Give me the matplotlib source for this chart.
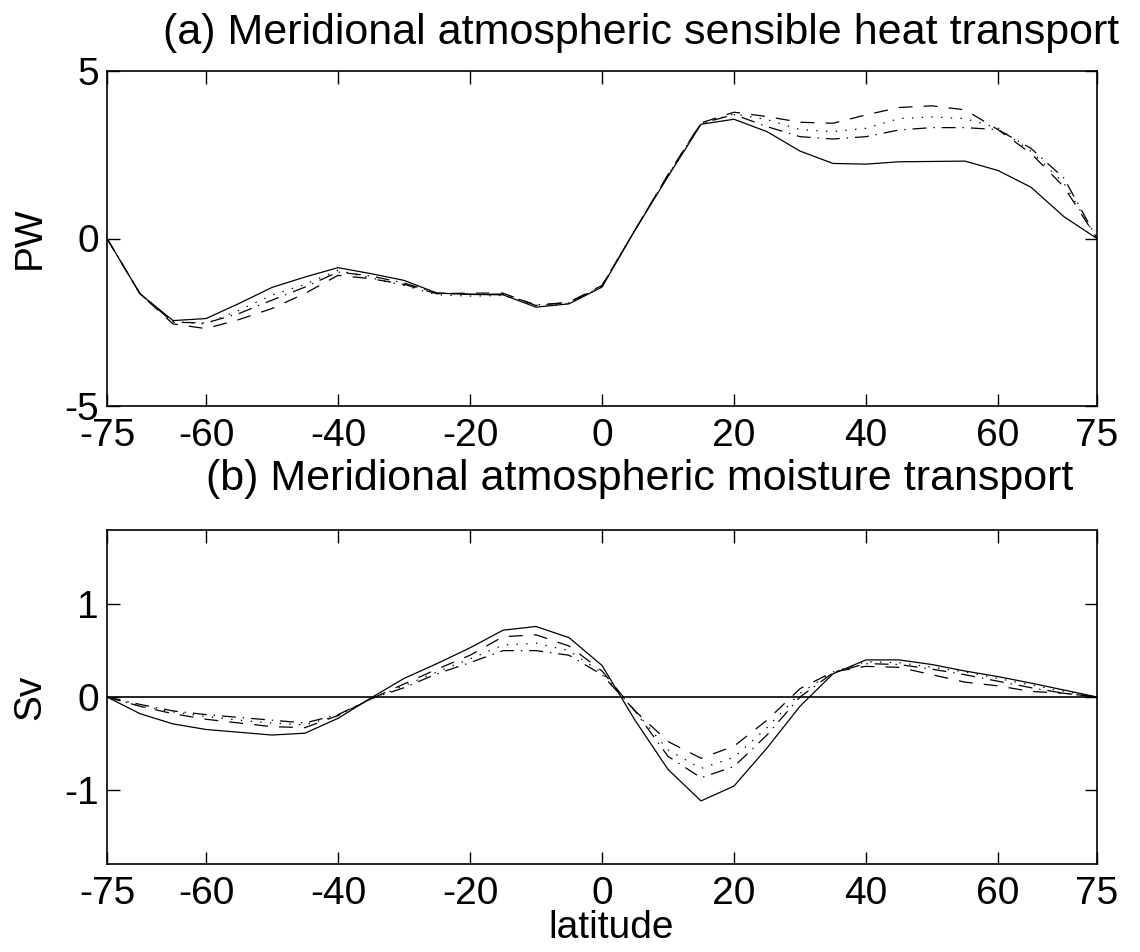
import matplotlib
matplotlib.use("Agg")
import matplotlib.pyplot as plt

plt.rcParams['font.family'] = ['Liberation Sans', 'DejaVu Sans']
plt.rcParams['lines.scale_dashes'] = False

lat = [-75, -70, -65, -60, -55, -50, -45, -40, -35, -30, -25, -20, -15, -10, -5,
       0, 5, 10, 15, 20, 25, 30, 35, 40, 45, 50, 55, 60, 65, 70, 75]

# (a) sensible heat transport, PW
heat_solid = [0, -1.65, -2.45, -2.39, -1.94, -1.46, -1.15, -0.87, -1.05, -1.25, -1.63, -1.67, -1.68, -2.05, -1.95,
              -1.45, 0.25, 1.85, 3.41, 3.56, 3.19, 2.61, 2.24, 2.22, 2.29, 2.30, 2.31, 2.03, 1.53, 0.65, 0]
heat_dashed = [0, -1.65, -2.55, -2.69, -2.42, -2.09, -1.64, -1.10, -1.20, -1.37, -1.65, -1.63, -1.63, -2.00, -1.90,
               -1.40, 0.25, 1.90, 3.45, 3.77, 3.64, 3.47, 3.44, 3.69, 3.91, 3.96, 3.84, 3.25, 2.54, 1.54, 0]
heat_dotted = [0, -1.65, -2.48, -2.55, -2.14, -1.69, -1.37, -0.95, -1.18, -1.40, -1.68, -1.72, -1.70, -2.00, -1.95,
               -1.42, 0.25, 1.90, 3.43, 3.72, 3.55, 3.25, 3.19, 3.29, 3.58, 3.63, 3.58, 3.30, 2.60, 1.65, 0]
heat_dashdot = [0, -1.65, -2.50, -2.52, -2.24, -1.84, -1.45, -1.00, -1.12, -1.33, -1.63, -1.66, -1.66, -1.98, -1.92,
                -1.42, 0.25, 1.90, 3.43, 3.70, 3.34, 3.04, 2.97, 3.04, 3.24, 3.31, 3.31, 3.25, 2.69, 1.80, 0]

# (b) moisture transport, Sv
moist_solid = [0, -0.18, -0.29, -0.35, -0.38, -0.41, -0.39, -0.23, -0.01, 0.20, 0.36, 0.53, 0.72, 0.76, 0.64,
               0.34, -0.25, -0.78, -1.12, -0.96, -0.55, -0.10, 0.25, 0.40, 0.40, 0.35, 0.28, 0.22, 0.15, 0.075, 0]
moist_dashed = [0, -0.10, -0.18, -0.24, -0.28, -0.32, -0.33, -0.20, -0.02, 0.14, 0.30, 0.45, 0.65, 0.67, 0.55,
                0.28, -0.15, -0.48, -0.66, -0.53, -0.25, 0.09, 0.27, 0.33, 0.32, 0.24, 0.16, 0.12, 0.06, 0.04, 0]
moist_dotted = [0, -0.10, -0.16, -0.21, -0.25, -0.28, -0.30, -0.20, -0.02, 0.12, 0.27, 0.41, 0.56, 0.58, 0.50,
                0.26, -0.15, -0.57, -0.77, -0.65, -0.33, 0.04, 0.27, 0.38, 0.37, 0.32, 0.27, 0.20, 0.13, 0.06, 0]
moist_dashdot = [0, -0.08, -0.15, -0.19, -0.22, -0.25, -0.28, -0.19, -0.02, 0.10, 0.25, 0.37, 0.50, 0.50, 0.45,
                 0.24, -0.15, -0.64, -0.87, -0.75, -0.41, 0.00, 0.26, 0.36, 0.35, 0.30, 0.24, 0.17, 0.10, 0.04, 0]

xticks = [-75, -60, -40, -20, 0, 20, 40, 60, 75]
title_a = "(a) Meridional atmospheric sensible heat transport"
title_b = "(b) Meridional atmospheric moisture transport"

FS = 28
LW = 0.9
styles = {
    'solid': dict(linestyle='-'),
    'dashed': dict(dashes=(10, 8)),
    'dotted': dict(dashes=(1, 6)),
    'dashdot': dict(dashes=(10, 5, 1, 5)),
}

fig = plt.figure(figsize=(11.4, 9.52), dpi=100)
W, H = 1140, 952
ax1 = fig.add_axes([107 / W, 1 - 406 / H, 990 / W, 335 / H])
ax2 = fig.add_axes([107 / W, 1 - 864 / H, 990 / W, 334 / H])

def style_axes(ax, yticks, ylim):
    ax.set_xlim(-75, 75)
    ax.set_ylim(*ylim)
    ax.set_xticks(xticks)
    ax.set_xticklabels([str(t) for t in xticks])
    ax.set_yticks(yticks)
    ax.set_yticklabels([str(t) for t in yticks])
    ax.tick_params(direction='in', length=9, width=1.0, top=True, right=True,
                   labelsize=FS, color='black')
    ax.tick_params(axis='x', pad=9)
    ax.tick_params(axis='y', pad=6)
    for s in ax.spines.values():
        s.set_linewidth(1.2)
        s.set_color('black')

for ys, key in [(heat_solid, 'solid'), (heat_dashed, 'dashed'), (heat_dotted, 'dotted'), (heat_dashdot, 'dashdot')]:
    ax1.plot(lat, ys, color='black', lw=LW, **styles[key])
style_axes(ax1, [-5, 0, 5], (-5, 5))

ax2.axhline(0, color='black', lw=1.2)
for ys, key in [(moist_solid, 'solid'), (moist_dashed, 'dashed'), (moist_dotted, 'dotted'), (moist_dashdot, 'dashdot')]:
    ax2.plot(lat, ys, color='black', lw=LW, **styles[key])
style_axes(ax2, [-1, 0, 1], (-1.8, 1.8))

ax1.text(0.540, 1 + 27 / 335, title_a, transform=ax1.transAxes, ha='center', va='baseline', fontsize=31)
ax2.text(0.538, 1 + 40 / 334, title_b, transform=ax2.transAxes, ha='center', va='baseline', fontsize=31)

fig.text(30 / W, 1 - 238 / H, "PW", rotation=90, ha='center', va='center', fontsize=FS)
fig.text(30 / W, 1 - 697 / H, "Sv", rotation=90, ha='center', va='center', fontsize=FS)
fig.text(611 / W, 1 - 928 / H, "latitude", ha='center', va='center', fontsize=FS)

fig.savefig("out.png", dpi=100, facecolor='white')
